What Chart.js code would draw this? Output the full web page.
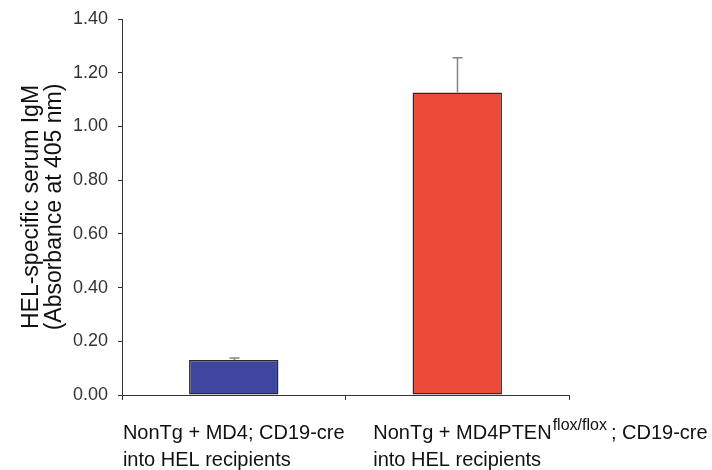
<!DOCTYPE html>
<html>
<head>
<meta charset="utf-8">
<script src="https://cdn.jsdelivr.net/npm/chart.js@4/dist/chart.umd.min.js"></script>
<style>
  html, body { margin: 0; padding: 0; background: #ffffff; }
  #c { display: block; }
</style>
</head>
<body>
<canvas id="c" width="712" height="470"></canvas>
<script>
// ---- data ----
const categoryMain  = ["NonTg + MD4", "NonTg + MD4PTEN"];
const categorySup   = ["", "flox/flox"];
const categoryRest  = ["; CD19-cre", "; CD19-cre"];
const categoryLine2 = ["into HEL recipients", "into HEL recipients"];
const meanValues    = [0.13, 1.126];
const errorUpper    = [0.008, 0.13];
const barColors     = ["#3F46A0", "#EC4B3A"];
const yTickMin = 0, yTickMax = 1.4, yTickStep = 0.2;
const yTitleLines = ["HEL-specific serum IgM", "(Absorbance at 405 nm)"];

const FONT = "'Liberation Sans', Arial, Helvetica, sans-serif";

const errorBarPlugin = {
  id: 'errorBars',
  afterDatasetsDraw(chart) {
    const ctx = chart.ctx;
    const meta = chart.getDatasetMeta(0);
    const y = chart.scales.y;
    ctx.save();
    ctx.strokeStyle = '#858585';
    ctx.lineWidth = 1.5;
    meta.data.forEach((bar, i) => {
      const x = Math.round(bar.x) + 0.5;
      const yTop = y.getPixelForValue(meanValues[i] + errorUpper[i]);
      const yBase = y.getPixelForValue(meanValues[i]);
      ctx.beginPath();
      ctx.moveTo(x, yBase);
      ctx.lineTo(x, yTop);
      ctx.moveTo(x - 5, yTop);
      ctx.lineTo(x + 5, yTop);
      ctx.stroke();
    });
    ctx.restore();
  }
};

const xLabelPlugin = {
  id: 'xLabels',
  afterDraw(chart) {
    const ctx = chart.ctx;
    const xs = chart.scales.x;
    const base = chart.chartArea.bottom;
    ctx.save();
    ctx.fillStyle = '#111';
    ctx.textBaseline = 'alphabetic';
    ctx.textAlign = 'left';
    const mainFont = "20px " + FONT;
    const supFont = "16px " + FONT;
    categoryMain.forEach((m, i) => {
      ctx.font = mainFont;
      const wMain = ctx.measureText(m).width;
      const wRest = ctx.measureText(categoryRest[i]).width;
      ctx.font = supFont;
      const wSup = categorySup[i] ? ctx.measureText(categorySup[i]).width + 5 : 0;
      const total = wMain + wSup + wRest;
      const cx = xs.getPixelForValue(i);
      const startX = i === 0 ? cx - total / 2 : cx - 84;
      const y1 = base + 44, y2 = base + 71;
      ctx.font = mainFont;
      ctx.fillText(m, startX, y1);
      if (categorySup[i]) {
        ctx.font = supFont;
        ctx.fillText(categorySup[i], startX + wMain + 1, y1 - 9);
      }
      ctx.font = mainFont;
      ctx.fillText(categoryRest[i], startX + wMain + wSup, y1);
      ctx.fillText(categoryLine2[i], startX, y2);
    });
    ctx.restore();
  }
};

new Chart(document.getElementById('c'), {
  type: 'bar',
  data: {
    labels: categoryMain.map((m, i) => m + categorySup[i] + categoryRest[i]),
    datasets: [{
      data: meanValues,
      backgroundColor: barColors,
      borderColor: '#2a2a2a',
      borderWidth: 1.5,
      borderSkipped: false,
      barPercentage: 0.4,
      categoryPercentage: 1.0
    }]
  },
  options: {
    responsive: false,
    animation: false,
    devicePixelRatio: 1,
    layout: { padding: { top: 18, right: 143, left: 0, bottom: 0 } },
    plugins: { legend: { display: false }, tooltip: { enabled: false } },
    scales: {
      x: {
        offset: true,
        grid: { display: true, drawOnChartArea: false, drawTicks: true, tickLength: 5, color: '#333', offset: true },
        border: { display: true, color: '#333', width: 1 },
        ticks: { display: false },
        afterFit(scale) { scale.height = 75; }
      },
      y: {
        min: yTickMin,
        max: yTickMax,
        grid: { display: true, drawOnChartArea: false, drawTicks: true, tickLength: 4, color: '#333' },
        border: { display: true, color: '#333', width: 1 },
        ticks: {
          stepSize: yTickStep,
          color: '#333',
          padding: 10,
          font: { family: FONT, size: 18, lineHeight: 1.0 },
          callback: (v) => Number(v).toFixed(2)
        },
        title: {
          display: true,
          text: yTitleLines,
          color: '#111',
          font: { family: FONT, size: 23, lineHeight: 1.0 },
          padding: { top: 20, bottom: 0 }
        },
        afterFit(scale) { scale.width = 122; }
      }
    }
  },
  plugins: [errorBarPlugin, xLabelPlugin]
});
</script>
</body>
</html>
